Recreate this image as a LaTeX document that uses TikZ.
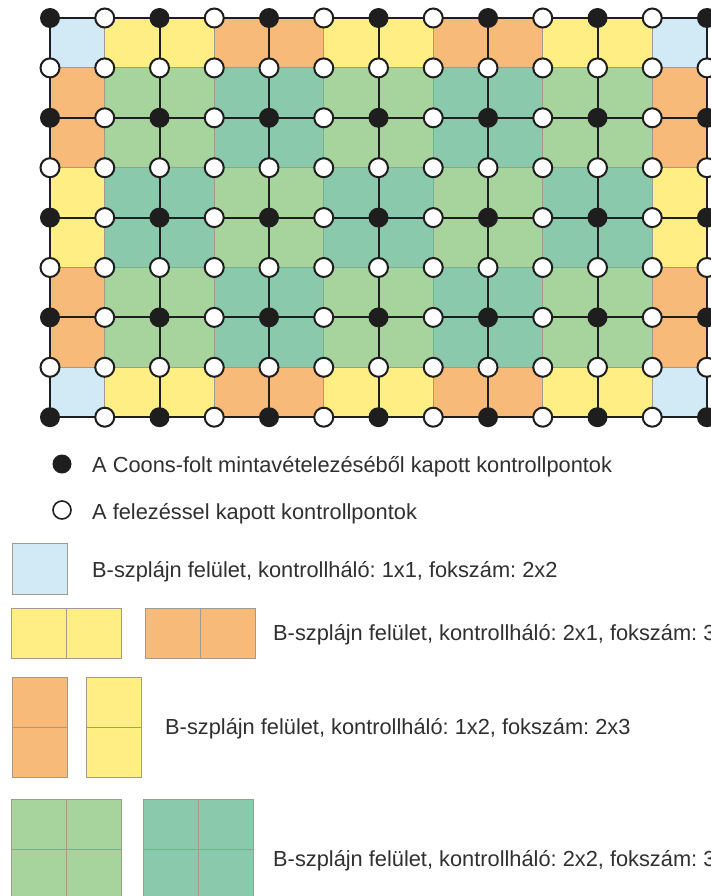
\documentclass[tikz,border=0pt]{standalone}
\usepackage{fontspec}
\setmainfont{Liberation Sans}
\usepackage{tikz}
\definecolor{bsblue}{HTML}{D2E9F6}
\definecolor{bsyellow}{HTML}{FEEE84}
\definecolor{bsorange}{HTML}{F8BA78}
\definecolor{bsgreen}{HTML}{A7D49C}
\definecolor{bsteal}{HTML}{8BC9AC}
\definecolor{bsedge}{HTML}{A09B8C}
\definecolor{bsline}{HTML}{1E1E1E}
\definecolor{bstext}{HTML}{303030}

\begin{document}
\frenchspacing
\begin{tikzpicture}[
  x=1pt,y=-1pt,
  cell/.style={draw=bsedge,line width=0.9pt},
  mesh/.style={draw=bsline,line width=2pt},
  cpfull/.style={circle,fill=bsline,inner sep=0pt,minimum size=20pt},
  cphalf/.style={circle,draw=bsline,fill=white,line width=2pt,inner sep=0pt,minimum size=19pt},
  legtext/.style={anchor=base west,inner sep=0pt,text=bstext,font=\fontsize{21.8}{26}\selectfont}
]
\path[use as bounding box,fill=white] (0,0) rectangle (711,896);

% surface patches and control mesh
\begin{scope}[shift={(50,18)},x=54.75pt,y=-49.9pt]
  \foreach \bi in {0,1,2}
    \foreach \bj in {0,...,4}{
      \pgfmathtruncatemacro{\odd}{mod(\bi+\bj,2)}
      \ifnum\odd=0 \def\blockcol{bsgreen}\else\def\blockcol{bsteal}\fi
      \fill[\blockcol] ({2*\bj+1},{2*\bi+1}) rectangle ++(2,2);
    }
  \foreach \bj in {0,...,4}{
    \pgfmathtruncatemacro{\odd}{mod(\bj,2)}
    \ifnum\odd=0 \def\blockcol{bsyellow}\else\def\blockcol{bsorange}\fi
    \fill[\blockcol] ({2*\bj+1},0) rectangle ++(2,1);
    \fill[\blockcol] ({2*\bj+1},7) rectangle ++(2,1);
  }
  \foreach \bi in {0,1,2}{
    \pgfmathtruncatemacro{\odd}{mod(\bi,2)}
    \ifnum\odd=0 \def\blockcol{bsorange}\else\def\blockcol{bsyellow}\fi
    \fill[\blockcol] (0,{2*\bi+1}) rectangle ++(1,2);
    \fill[\blockcol] (11,{2*\bi+1}) rectangle ++(1,2);
  }
  \foreach \cx/\cy in {0/0,11/0,0/7,11/7}
    \fill[bsblue] (\cx,\cy) rectangle ++(1,1);
  % thin patch borders
  \foreach \c in {1,3,...,11}
    \draw[cell] (\c,0) -- (\c,8);
  \foreach \r in {1,3,...,7}
    \draw[cell] (0,\r) -- (12,\r);

  \foreach \i in {0,...,12}
    \foreach \j in {0,...,8}
      \coordinate (g-\i-\j) at (\i,\j);
  \foreach \j in {0,2,...,8}
    \draw[mesh] (g-0-\j) -- (g-12-\j);
  \foreach \i in {0,2,...,12}
    \draw[mesh] (g-\i-0) -- (g-\i-8);

  \foreach \i in {0,...,12}
    \foreach \j in {0,...,8}{
      \pgfmathtruncatemacro{\kind}{mod(\i,2)+mod(\j,2)}
      \ifnum\kind=0 \node[cpfull] (cp-\i-\j) at (g-\i-\j) {};
      \else \node[cphalf] (cp-\i-\j) at (g-\i-\j) {};\fi
    }
\end{scope}

% legend
\node[cpfull,minimum size=19pt] (legfull) at (62,464) {};
\node[legtext] (legfulltext) at (92,472) {A Coons-folt mintavételezéséből kapott kontrollpontok};
\node[cphalf,line width=1.6pt,minimum size=18pt] (leghalf) at (62,510) {};
\node[legtext] (leghalftext) at (92,519) {A felezéssel kapott kontrollpontok};

\draw[cell,fill=bsblue] (12,543) rectangle ++(55,51);
\node[legtext] (legonetext) at (92,577) {B-szplájn felület, kontrollháló: 1x1, fokszám: 2x2};

\foreach \k in {0,1}{
  \draw[cell,fill=bsyellow] ({11+55*\k},608) rectangle ++(55,50);
  \draw[cell,fill=bsorange] ({145+55*\k},608) rectangle ++(55,50);
}
\node[legtext] (legtwotext) at (273,640) {B-szplájn felület, kontrollháló: 2x1, fokszám: 3};

\foreach \k in {0,1}{
  \draw[cell,fill=bsorange] (12,{677+50*\k}) rectangle ++(55,50);
  \draw[cell,fill=bsyellow] (86,{677+50*\k}) rectangle ++(55,50);
}
\node[legtext] (legthreetext) at (165,734) {B-szplájn felület, kontrollháló: 1x2, fokszám: 2x3};

\foreach \k in {0,1}
  \foreach \l in {0,1}{
    \draw[cell,fill=bsgreen] ({11+55*\k},{799+50*\l}) rectangle ++(55,50);
    \draw[cell,fill=bsteal] ({143+55*\k},{799+50*\l}) rectangle ++(55,50);
  }
\node[legtext] (legfourtext) at (273,866) {B-szplájn felület, kontrollháló: 2x2, fokszám: 3};
\end{tikzpicture}
\end{document}
